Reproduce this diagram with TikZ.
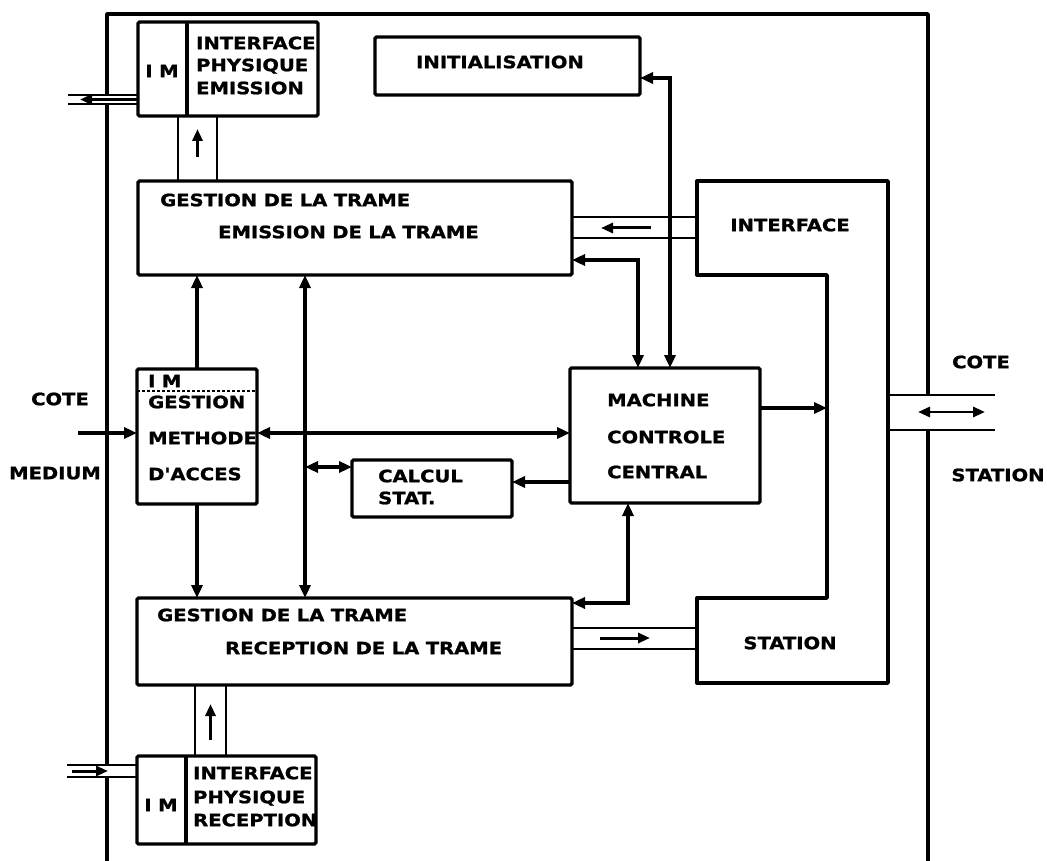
\documentclass[tikz,border=0pt]{standalone}
\usepackage{fontspec}
\newfontfamily\lab{DejaVu Sans}[FakeStretch=1.15,WordSpace=0.95,BoldFeatures={FakeBold=1.2}]
\usetikzlibrary{arrows.meta,calc}
\begin{document}
\begin{tikzpicture}[x=1pt,y=-1pt,
  box/.style={draw, line width=3.4pt, rounded corners=1.5pt, inner sep=0pt, outer sep=0pt, anchor=north west},
  txt/.style={font=\lab\bfseries\fontsize{17}{17}\selectfont, inner sep=0pt, anchor=west, text height=12.4pt, text depth=0pt},
  ctxt/.style={txt, anchor=center},
  wire/.style={line width=3.4pt},
  chan/.style={line width=2.6pt},
  arr/.style={wire, -{Triangle[length=13pt,width=11pt]}},
  darr/.style={wire, {Triangle[length=13pt,width=11pt]}-{Triangle[length=13pt,width=11pt]}},
  small/.style={line width=3pt, -{Triangle[length=12pt,width=10pt]}},
  dsmall/.style={line width=2.8pt, {Triangle[length=12pt,width=10pt]}-{Triangle[length=12pt,width=10pt]}},
]
\useasboundingbox (0,0) rectangle (1047,861);

% outer frame of the unit
\draw[wire, line join=round] (107,95) -- (107,14) -- (928,14) -- (928,395);
\draw[wire] (107,104) -- (107,765);
\draw[wire] (107,777) -- (107,861);
\draw[wire] (928,430) -- (928,861);

% blocks
\node[box, minimum width=180pt, minimum height=94pt] (imE) at (138,22) {};
\node[box, minimum width=265pt, minimum height=58pt] (iniT) at (375,37) {};
\node[box, minimum width=434pt, minimum height=94pt] (emi) at (138,181) {};
\node[box, minimum width=120pt, minimum height=135pt] (meth) at (137,369) {};
\node[box, minimum width=190pt, minimum height=135pt] (mach) at (570,368) {};
\node[box, minimum width=160pt, minimum height=57pt] (calc) at (352,460) {};
\node[box, minimum width=435pt, minimum height=87pt] (rec) at (137,598) {};
\node[box, minimum width=179pt, minimum height=88pt] (imR) at (137,756) {};

% interface / station block
\draw[wire, line join=round] (697,181) -- (888,181) -- (888,683) -- (697,683) -- (697,598)
  -- (827,598) -- (827,275) -- (697,275) -- cycle;
\coordinate (ifL) at (697,228);
\coordinate (stL) at (697,638);
\coordinate (stIn) at (827,408);

% dividers inside blocks
\draw[wire] (imE.north -| 187,0) -- (imE.south -| 187,0);
\draw[wire] (imR.north -| 186,0) -- (imR.south -| 186,0);
\draw[line width=1.5pt, densely dashed] (meth.west |- 0,391) -- (meth.east |- 0,391);

% texts
\node[ctxt] (imEa) at (162,71) {I M};
\node[txt] (imEb) at (196,43) {INTERFACE};
\node[txt] (imEc) at (196,65) {PHYSIQUE};
\node[txt] (imEd) at (196,88) {EMISSION};
\node[ctxt] (iniTt) at (500,62) {INITIALISATION};
\node[txt] (emia) at (160,200) {GESTION DE LA TRAME};
\node[txt] (emib) at (218,232) {EMISSION DE LA TRAME};
\node[ctxt] (ifT) at (790,225) {INTERFACE};
\node[ctxt] (stT) at (790,643) {STATION};
\node[ctxt] (coteL) at (60,399) {COTE};
\node[ctxt] (medL) at (55,473) {MEDIUM};
\node[ctxt] (coteR) at (981,362) {COTE};
\node[ctxt] (statR) at (998,475) {STATION};
\node[txt] (metha) at (148,381) {I M};
\node[txt] (methb) at (148,402) {GESTION};
\node[txt] (methc) at (148,438) {METHODE};
\node[txt] (methd) at (148,474) {D'ACCES};
\node[txt] (macha) at (607,400) {MACHINE};
\node[txt] (machb) at (607,437) {CONTROLE};
\node[txt] (machc) at (607,472) {CENTRAL};
\node[txt] (calca) at (378,476) {CALCUL};
\node[txt] (calcb) at (378,498) {STAT.};
\node[txt] (reca) at (157,615) {GESTION DE LA TRAME};
\node[txt] (recb) at (225,648) {RECEPTION DE LA TRAME};
\node[ctxt] (imRa) at (161,805) {I M};
\node[txt] (imRb) at (193,773) {INTERFACE};
\node[txt] (imRc) at (193,797) {PHYSIQUE};
\node[txt] (imRd) at (193,820) {RECEPTION};

% emission physical interface to the medium
\coordinate (outE) at (68,99.5);
\draw[chan] (imE.west |- 0,95) -- (outE |- 0,95);
\draw[chan] (imE.west |- 0,104) -- (outE |- 0,104);
\draw[small] (imE.west |- outE) -- ($(outE)+(12,0)$);

% frame management -> emission interface
\draw[chan] (emi.north -| 178,0) -- (imE.south -| 178,0);
\draw[chan] (emi.north -| 217,0) -- (imE.south -| 217,0);
\draw[small] ($(emi.north -| 197.5,0)+(0,-24)$) -- ++(0,-28);

% station interface -> emission
\draw[chan] (emi.east |- 0,217) -- (ifL |- 0,217);
\draw[chan] (emi.east |- 0,238) -- (ifL |- 0,238);
\draw[small] ($(ifL)+(-46,0)$) -- ++(-50,0);

% control links
\draw[darr] (iniT.east |- 0,78) -| (mach.north -| 670,0);
\draw[darr] (emi.east |- 0,260) -| (mach.north -| 638,0);
\draw[arr] (mach.east |- stIn) -- (stIn);
\coordinate (medIn) at (78,433);
\draw[arr] (medIn) -- (meth.west |- medIn);
\draw[darr] (meth.east |- 0,433) -- (mach.west |- 0,433);
\draw[arr] (mach.west |- 0,482) -- (calc.east |- 0,482);
\draw[darr] (emi.south -| 305,0) -- (rec.north -| 305,0);
\coordinate (bus) at (305,467);
\draw[darr] (bus) -- (calc.west |- bus);
\draw[arr] (meth.north) -- (emi.south -| meth.north);
\draw[arr] (meth.south) -- (rec.north -| meth.south);
\draw[darr] (rec.east |- 0,603) -| (mach.south -| 628,0);

% reception -> station interface
\draw[chan] (rec.east |- 0,628) -- (stL |- 0,628);
\draw[chan] (rec.east |- 0,649) -- (stL |- 0,649);
\draw[small] ($(rec.east |- stL)+(28,0)$) -- ++(50,0);

% reception physical interface -> frame management
\draw[chan] (rec.south -| 195,0) -- (imR.north -| 195,0);
\draw[chan] (rec.south -| 226,0) -- (imR.north -| 226,0);
\draw[small] ($(imR.north -| 210.5,0)+(0,-16)$) -- ++(0,-36);

% medium -> reception physical interface
\coordinate (outR) at (67,771);
\draw[chan] (outR |- 0,765) -- (imR.west |- 0,765);
\draw[chan] (outR |- 0,777) -- (imR.west |- 0,777);
\draw[small] ($(outR)+(5,0)$) -- ($(outR)+(41,0)$);

% station side
\coordinate (outS) at (995,412);
\draw[chan] (888,395) -- (outS |- 0,395);
\draw[chan] (888,430) -- (outS |- 0,430);
\draw[dsmall] ($(outS)+(-77,0)$) -- ($(outS)+(-10,0)$);
\end{tikzpicture}
\end{document}
